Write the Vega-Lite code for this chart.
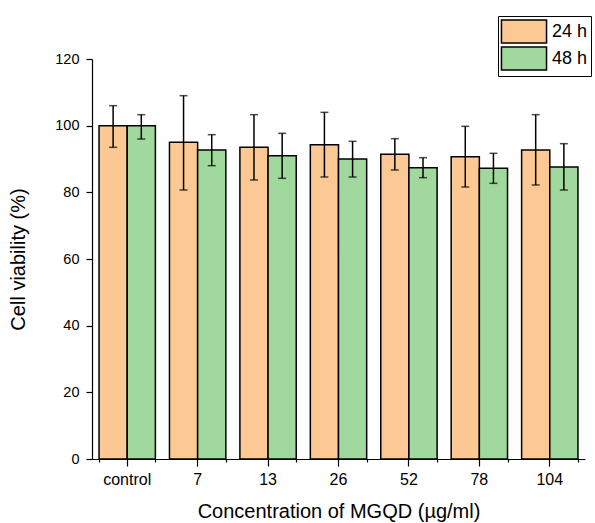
{
  "$schema": "https://vega.github.io/schema/vega-lite/v6.json",
  "autosize": "none",
  "padding": {"left": 92, "top": 59, "right": 10, "bottom": 64},
  "width": 493,
  "height": 400,
  "background": "white",
  "config": {
    "font": "Liberation Sans",
    "view": {"stroke": null},
    "axis": {
      "domainColor": "black",
      "tickColor": "black",
      "labelColor": "black",
      "titleColor": "black",
      "labelFont": "Liberation Sans",
      "titleFont": "Liberation Sans",
      "titleFontWeight": "normal",
      "labelFontSize": 16,
      "titleFontSize": 20,
      "grid": false
    }
  },
  "data": {
    "values": [
      {"conc": "control", "time": "24 h", "mean": 100, "lo": 93.5, "hi": 106},
      {"conc": "control", "time": "48 h", "mean": 100, "lo": 96, "hi": 103.3},
      {"conc": "7", "time": "24 h", "mean": 95, "lo": 80.7, "hi": 109},
      {"conc": "7", "time": "48 h", "mean": 92.7, "lo": 88, "hi": 97.3},
      {"conc": "13", "time": "24 h", "mean": 93.5, "lo": 83.7, "hi": 103.3},
      {"conc": "13", "time": "48 h", "mean": 91, "lo": 84.2, "hi": 97.7},
      {"conc": "26", "time": "24 h", "mean": 94.3, "lo": 84.6, "hi": 104},
      {"conc": "26", "time": "48 h", "mean": 90, "lo": 84.6, "hi": 95.3},
      {"conc": "52", "time": "24 h", "mean": 91.4, "lo": 86.7, "hi": 96.1},
      {"conc": "52", "time": "48 h", "mean": 87.4, "lo": 84.4, "hi": 90.4},
      {"conc": "78", "time": "24 h", "mean": 90.7, "lo": 81.6, "hi": 99.8},
      {"conc": "78", "time": "48 h", "mean": 87.2, "lo": 82.7, "hi": 91.7},
      {"conc": "104", "time": "24 h", "mean": 92.7, "lo": 82.2, "hi": 103.3},
      {"conc": "104", "time": "48 h", "mean": 87.6, "lo": 80.7, "hi": 94.6}
    ]
  },
  "encoding": {
    "xOffset": {"field": "time", "type": "nominal", "scale": {"paddingInner": 0, "paddingOuter": 0}}
  },
  "resolve": {"axis": {"x": "independent"}},
  "layer": [
    {
      "mark": {"type": "bar", "stroke": "black", "strokeWidth": 1.5},
      "encoding": {
        "x": {
          "field": "conc",
          "type": "nominal",
          "sort": ["control", "7", "13", "26", "52", "78", "104"],
          "scale": {"paddingInner": 0.2, "paddingOuter": 0.1},
          "axis": {
            "orient": "bottom",
            "title": "Concentration of MGQD (µg/ml)",
            "labelAngle": 0,
            "tickSize": 7,
            "labelPadding": 5,
            "titlePadding": 14,
            "domainWidth": 1.2,
            "tickWidth": 1.2
          }
        },
        "y": {
          "field": "mean",
          "type": "quantitative",
          "scale": {"domain": [0, 120], "nice": false},
          "axis": {
            "title": "Cell viability (%)",
            "values": [0, 10, 20, 30, 40, 50, 60, 70, 80, 90, 100, 110, 120],
            "labelExpr": "datum.value % 20 == 0 ? datum.label : ''",
            "tickSize": {"condition": {"test": "datum.value % 20 != 0", "value": 3}, "value": 6},
            "labelFontSize": 14.5,
            "labelPadding": 7,
            "titlePadding": 26,
            "domainWidth": 1.2,
            "tickWidth": 1.2
          }
        },
        "color": {
          "field": "time",
          "type": "nominal",
          "scale": {"domain": ["24 h", "48 h"], "range": ["#FCC893", "#A0D89D"]},
          "legend": {
            "title": null,
            "orient": "none",
            "legendX": 406,
            "legendY": -43,
            "symbolType": "M-1.96,-1H1.96V1H-1.96Z",
            "symbolSize": 529,
            "symbolStrokeColor": "black",
            "symbolStrokeWidth": 1.5,
            "labelFontSize": 18,
            "labelColor": "black",
            "labelFont": "Liberation Sans",
            "labelOffset": 15.5,
            "symbolOffset": 10.5,
            "rowPadding": -7,
            "strokeColor": "black",
            "padding": 3
          }
        }
      }
    },
    {
      "mark": {"type": "rule", "color": "black", "strokeWidth": 1.5},
      "encoding": {
        "x": {
          "field": "conc",
          "type": "nominal",
          "sort": ["control", "7", "13", "26", "52", "78", "104"],
          "axis": {
            "orient": "bottom",
            "title": null,
            "labels": false,
            "domain": false,
            "tickBand": "extent",
            "tickSize": 3,
            "tickWidth": 1.2
          }
        },
        "y": {"field": "lo", "type": "quantitative"},
        "y2": {"field": "hi"}
      }
    },
    {
      "mark": {"type": "tick", "color": "black", "size": 8, "thickness": 1.5},
      "encoding": {
        "x": {"field": "conc", "type": "nominal", "sort": ["control", "7", "13", "26", "52", "78", "104"], "axis": null},
        "y": {"field": "lo", "type": "quantitative"}
      }
    },
    {
      "mark": {"type": "tick", "color": "black", "size": 8, "thickness": 1.5},
      "encoding": {
        "x": {"field": "conc", "type": "nominal", "sort": ["control", "7", "13", "26", "52", "78", "104"], "axis": null},
        "y": {"field": "hi", "type": "quantitative"}
      }
    }
  ]
}
